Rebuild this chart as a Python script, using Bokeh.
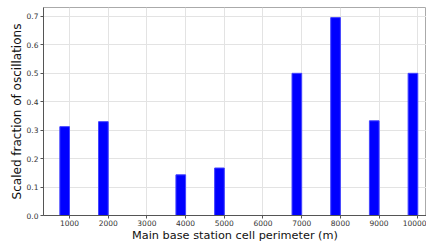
from bokeh.plotting import figure
from bokeh.models import Range1d, FixedTicker, PrintfTickFormatter
from bokeh.embed import file_html
from bokeh.resources import INLINE

perimeters = [1000, 2000, 4000, 5000, 7000, 8000, 9000, 10000]
fractions = [0.3125, 0.33, 0.143, 0.167, 0.5, 0.696, 0.333, 0.5]
x_ticks = [1000, 2000, 3000, 4000, 5000, 6000, 7000, 8000, 9000, 10000]
y_ticks = [0.0, 0.1, 0.2, 0.3, 0.4, 0.5, 0.6, 0.7]
bar_width = 250

p = figure(width=426, height=244, output_backend="svg", toolbar_location=None,
           x_range=Range1d(328, 10225), y_range=Range1d(0, 0.7315),
           min_border_left=43, min_border_right=0, min_border_top=7, min_border_bottom=28)

centers = [v - bar_width / 2 for v in perimeters]
p.vbar(x=centers, top=fractions, width=bar_width, bottom=0,
       fill_color="#0000ff", line_color="#4444ff", line_width=1)

p.xaxis.ticker = FixedTicker(ticks=x_ticks)
p.yaxis.ticker = FixedTicker(ticks=y_ticks)
p.yaxis.formatter = PrintfTickFormatter(format="%.1f")
p.xaxis.axis_label = "Main base station cell perimeter (m)"
p.yaxis.axis_label = "Scaled fraction of oscillations"
for ax in (p.xaxis, p.yaxis):
    ax.axis_label_text_font = "DejaVu Sans"
    ax.axis_label_text_font_style = "normal"
    ax.axis_label_text_color = "#111111"
    ax.axis_label_standoff = 0
    ax.major_label_text_font = "DejaVu Sans"
    ax.major_label_text_font_size = "7.5px"
    ax.major_label_text_color = "#333333"
    ax.axis_line_color = "#555555"
    ax.major_tick_line_color = "#555555"
    ax.major_tick_out = 3
    ax.major_tick_in = 0
    ax.minor_tick_line_color = None
    ax.major_label_standoff = 2
p.xaxis.major_label_standoff = 1
p.xaxis.axis_label_text_font_size = "11.3px"
p.yaxis.axis_label_text_font_size = "12px"

p.grid.grid_line_color = "#e3e3e3"
p.grid.grid_line_width = 1
p.outline_line_color = "#aaaaaa"
p.background_fill_color = "white"

open("out.html", "w").write(file_html(p, INLINE))
